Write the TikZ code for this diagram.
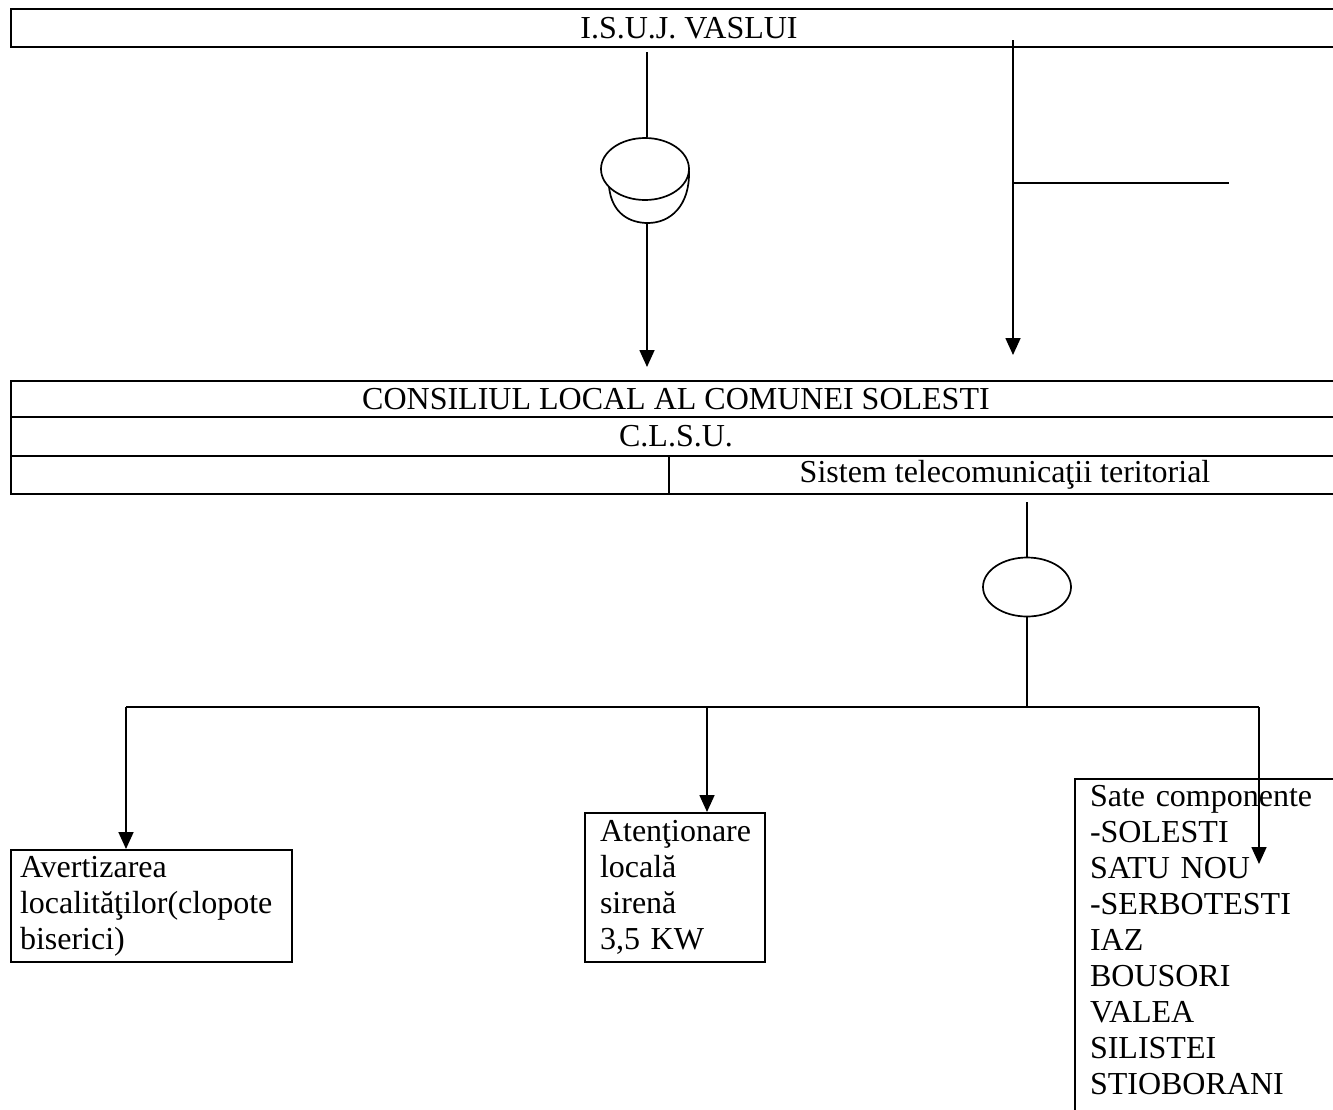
\documentclass[tikz,border=0pt]{standalone}
\usepackage{fontspec}
\setmainfont{Liberation Serif}
\usetikzlibrary{arrows.meta,positioning,shapes.geometric}

\tikzset{
  cell/.style={draw,line width=2pt,inner sep=0pt,anchor=north west,
    font={\fontsize{32}{36}\selectfont}},
  textbox/.style={draw,line width=2pt,anchor=north west,align=left,
    font={\fontsize{32}{36}\selectfont}},
  conn/.style={line width=1.7pt},
  arr/.style={conn,-{Triangle[length=17pt,width=15pt]}},
  phonetop/.style={draw,ellipse,line width=1.7pt,inner sep=0pt,
    minimum width=88pt,minimum height=62pt}
}

\begin{document}
\begin{tikzpicture}[x=1pt,y=-1pt]
  \clip (0,0) rectangle (1333,1109);
  \fill[white] (0,0) rectangle (1333,1109);

  % Top box
  \node[cell,minimum width=1356pt,minimum height=38pt] (isuj) at (10,8) {I.S.U.J. VASLUI};

  % Telephone link
  \coordinate (tstart) at (647,52);
  \node[phonetop] (phone) at (645,169) {};
  \draw[line width=1.7pt] (609,187) .. controls (612,214) and (630,223) .. (648,223)
      .. controls (670,223) and (690,206) .. (689,171);
  \coordinate (phonebot) at (647,223);
  \coordinate (tend) at (647,367);
  \draw[conn] (tstart) -- (tstart |- phone.north);
  \draw[arr] (phonebot) -- (tend);

  % Radio link
  \coordinate (rstart) at (1013,40);
  \coordinate (rbranch) at (1013,183);
  \coordinate (rant) at (1229,183);
  \coordinate (rend) at (1013,355);
  \draw[arr] (rstart) -- (rend);
  \draw[conn] (rbranch) -- (rant);

  % Consiliul local
  \node[cell,minimum width=1330pt,minimum height=36pt] (consiliu) at (10,380) {CONSILIUL LOCAL AL COMUNEI SOLESTI};
  \node[cell,minimum width=1330pt,minimum height=39pt] (clsu) at (10,416) {C.L.S.U.};
  \node[cell,minimum width=658pt,minimum height=38pt] (gol) at (10,455) {};
  \node[cell,minimum width=672pt,minimum height=38pt] (telecom) at (668,455) {Sistem telecomunicaţii teritorial};

  % Central
  \coordinate (cstart) at (1027,502);
  \node[phonetop,minimum height=59pt] (central) at (1027,587) {};
  \coordinate (bus) at (1027,707);
  \draw[conn] (cstart) -- (central.north);
  \draw[conn] (central.south) -- (bus);

  % Distribution
  \coordinate (b1) at (126,707);
  \coordinate (b2) at (707,707);
  \coordinate (b3) at (1259,707);
  \draw[conn] (b1) -- (b3);

  % Boxes
  \node[textbox,text width=263pt,inner xsep=9pt,minimum height=112pt] (clopote) at (10,849)
    {Avertizarea\\localităţilor(clopote\\biserici)};
  \node[textbox,text width=150pt,inner xsep=15pt,minimum height=149pt] (sirena) at (584,812)
    {Atenţionare\\locală\\sirenă\\3,5 KW};
  \node[textbox,draw=none,text width=240pt,inner xsep=14pt,inner ysep=5pt] (sate) at (1075,779)
    {Sate componente\\-SOLESTI\\SATU NOU\\-SERBOTESTI\\IAZ\\BOUSORI\\VALEA\\SILISTEI\\STIOBORANI};
  \draw[line width=2pt] (sate.north east) -- (sate.north west) -- ([yshift=-40pt]sate.south west);

  \coordinate (satetip) at (1259,864);
  \draw[arr] (b1) -- (b1 |- clopote.north);
  \draw[arr] (b2) -- (b2 |- sirena.north);
  \draw[arr] (b3) -- (satetip);
\end{tikzpicture}
\end{document}
